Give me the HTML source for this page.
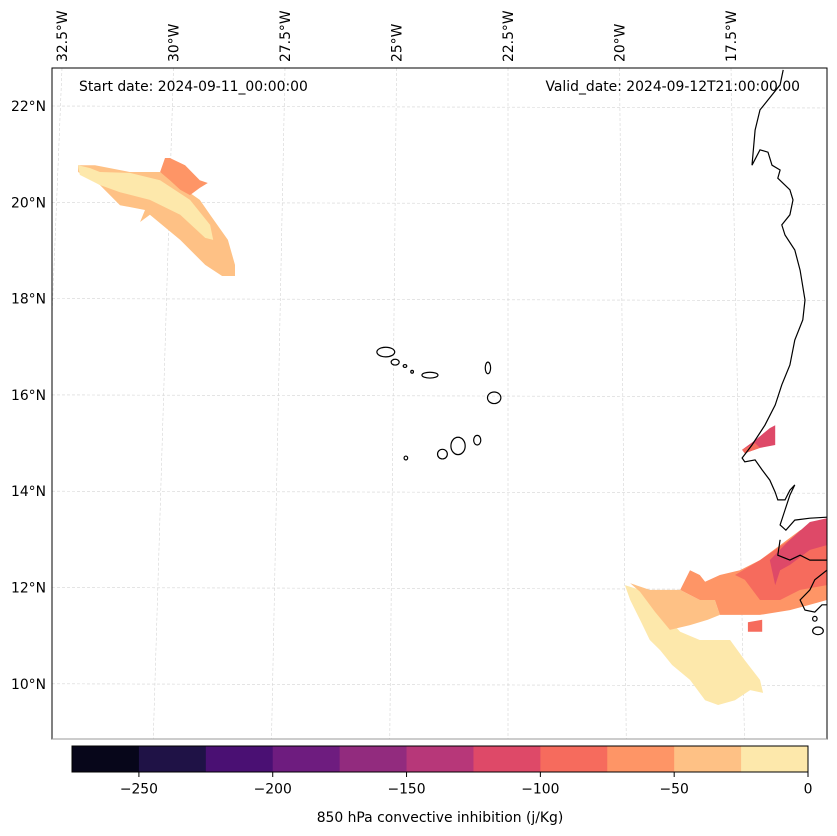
<!DOCTYPE html>
<html><head><meta charset="utf-8"><style>
body{margin:0;background:#fff;}
svg{display:block;font-family:"DejaVu Sans","Liberation Sans",sans-serif;}
</style></head><body>
<svg id="chart" width="837" height="836" viewBox="0 0 837 836" xmlns="http://www.w3.org/2000/svg">
<defs><clipPath id="mapclip"><rect x="52" y="68" width="775" height="671"/></clipPath></defs>
<g id="grid" clip-path="url(#mapclip)"></g>
<g id="fills" clip-path="url(#mapclip)"></g>
<g id="coast" clip-path="url(#mapclip)"></g>
<rect x="52" y="68" width="775" height="671" fill="none" stroke="#000" stroke-width="1"/>
<line x1="52" y1="739" x2="827" y2="739" stroke="#999" stroke-width="1"/>
<text x="79" y="91" font-size="13.9">Start date: 2024-09-11_00:00:00</text>
<text x="800" y="91" font-size="13.9" text-anchor="end">Valid_date: 2024-09-12T21:00:00.00</text>
<g id="lonlabels"></g>
<g id="latlabels"></g>
<g id="cbar"></g>
<text x="440" y="822" font-size="13.9" text-anchor="middle">850 hPa convective inhibition (j/Kg)</text>
</svg>
<script>
const levels = [-275,-250,-225,-200,-175,-150,-125,-100,-75,-50,-25,0];
const levelColors = ["#07061a","#1f1246","#4a1073","#6e1c7f","#922b7e","#b73779","#de4968","#f66b5d","#fe9566","#fec185","#fde8ab"];
const cbarTicks = [-250,-200,-150,-100,-50,0];
const lonTicks = [-32.5,-30,-27.5,-25,-22.5,-20,-17.5,-15];
const latTicks = [10,12,14,16,18,20,22];
const regionValues = [-50,-75,-25, -25,-50,-75,-100,-125,-100,-125,-100];
const regionPolys = [
 [[-32.14,20.77],[-31.76,20.77],[-30.98,20.63],[-30.30,20.63],[-29.97,20.42],[-29.41,20.05],[-29.18,19.74],[-28.78,19.22],[-28.62,18.70],[-28.62,18.47],[-28.91,18.47],[-29.29,18.70],[-29.85,19.22],[-30.53,19.74],[-30.75,19.59],[-30.64,19.84],[-31.20,19.94],[-31.65,20.36],[-32.14,20.63]],
 [[-30.08,20.92],[-29.74,20.77],[-29.41,20.46],[-29.23,20.40],[-29.41,20.30],[-29.63,20.15],[-29.85,20.26],[-30.08,20.46],[-30.30,20.63],[-30.19,20.92]],
 [[-32.14,20.77],[-31.87,20.71],[-31.65,20.63],[-30.98,20.61],[-30.30,20.46],[-29.63,20.05],[-29.18,19.53],[-29.11,19.22],[-29.29,19.26],[-29.85,19.74],[-30.53,20.05],[-31.20,20.21],[-31.65,20.36],[-32.10,20.57]],
 [[-19.88,12.05],[-19.54,11.95],[-19.09,11.53],[-18.64,11.08],[-18.20,10.91],[-17.52,10.91],[-17.19,10.49],[-16.85,10.08],[-16.78,9.81],[-17.07,9.87],[-17.41,9.66],[-17.79,9.56],[-18.08,9.66],[-18.42,10.08],[-18.82,10.39],[-19.09,10.70],[-19.32,10.91],[-19.54,11.33],[-19.76,11.74]],
 [[-19.76,12.09],[-19.32,11.95],[-18.64,11.95],[-18.20,11.74],[-17.86,11.74],[-17.75,11.43],[-18.02,11.33],[-18.42,11.22],[-18.87,11.12],[-19.20,11.49],[-19.54,11.91]],
 [[-18.64,11.95],[-18.42,12.36],[-18.20,12.26],[-18.08,12.12],[-17.75,12.26],[-17.30,12.36],[-16.85,12.57],[-16.40,12.88],[-15.95,13.19],[-15.35,13.40],[-15.35,11.74],[-15.73,11.64],[-16.18,11.53],[-16.85,11.43],[-17.30,11.43],[-17.75,11.43],[-17.86,11.74],[-18.20,11.74]],
 [[-17.41,12.26],[-16.85,12.57],[-16.18,12.99],[-15.73,13.30],[-15.35,13.40],[-15.35,12.05],[-15.95,11.95],[-16.40,11.74],[-16.85,11.74],[-17.19,12.16]],
 [[-16.63,12.57],[-16.18,12.99],[-15.73,13.36],[-15.35,13.44],[-15.35,12.88],[-15.73,12.78],[-16.18,12.47],[-16.40,12.36],[-16.51,12.05]],
 [[-17.12,11.28],[-16.80,11.33],[-16.80,11.08],[-17.12,11.08]],
 [[-17.25,14.86],[-16.96,15.06],[-16.63,15.31],[-16.51,15.37],[-16.51,14.96],[-16.85,14.90],[-17.19,14.79]],
 [[-17.25,14.86],[-16.96,15.00],[-16.85,14.90],[-17.19,14.79]]
];
const coastLines = [
 [[-16.33,22.75],[-16.40,22.44],[-16.85,21.92],[-16.96,21.50],[-17.03,20.77],[-16.85,21.09],[-16.67,21.04],[-16.58,20.77],[-16.40,20.67],[-16.45,20.50],[-16.18,20.26],[-16.11,20.05],[-16.18,19.74],[-16.36,19.53],[-16.29,19.32],[-16.07,19.01],[-15.95,18.59],[-15.84,17.97],[-15.89,17.56],[-16.07,17.14],[-16.18,16.62],[-16.36,16.21],[-16.51,15.79],[-16.74,15.37],[-17.03,14.96],[-17.25,14.69],[-17.19,14.61],[-16.96,14.65],[-16.80,14.44],[-16.63,14.23],[-16.51,13.98],[-16.45,13.82],[-16.29,13.82],[-16.18,14.02],[-16.07,14.13],[-16.18,13.92],[-16.29,13.61],[-16.40,13.30],[-16.27,13.19],[-16.07,13.40],[-15.73,13.44],[-15.35,13.46]],
 [[-16.40,12.99],[-16.45,12.67],[-16.18,12.57],[-15.95,12.67],[-15.73,12.57],[-15.35,12.57]],
 [[-15.35,12.36],[-15.62,12.16],[-15.73,11.95],[-15.95,11.74],[-15.84,11.53],[-15.62,11.49],[-15.46,11.64],[-15.35,11.64]]
];
const islands = [[-25.24,16.89,0.2,0.1],[-25.03,16.68,0.09,0.06],[-24.81,16.60,0.04,0.03],[-24.65,16.48,0.03,0.03],[-24.25,16.41,0.18,0.06],[-22.95,16.56,0.06,0.12],[-22.81,15.94,0.15,0.12],[-23.62,14.94,0.16,0.18],[-23.19,15.06,0.08,0.1],[-23.97,14.77,0.11,0.1],[-24.79,14.69,0.04,0.04],[-15.55,11.10,0.12,0.08],[-15.62,11.35,0.05,0.05]];

const NS='http://www.w3.org/2000/svg';
function xOf(lon){return 62+(lon+32.5)*44.6;}
function yOf(lat){return 106+(22-lat)*48.15;}
function pt(p){return xOf(p[0]).toFixed(1)+','+yOf(p[1]).toFixed(1);}
function mk(tag,attrs,parent){const e=document.createElementNS(NS,tag);for(const k in attrs)e.setAttribute(k,attrs[k]);parent.appendChild(e);return e;}
function colorFor(v){const i=levels.indexOf(v);return levelColors[Math.max(0,i)];}
const grid=document.getElementById('grid');
lonTicks.forEach(l=>{
  const x0=xOf(l), tilt=(l+22.5)*2.7;
  const ln=mk('line',{x1:x0,y1:68,x2:x0+tilt,y2:739,stroke:'#d4d4d4','stroke-width':0.6,'stroke-dasharray':'3,2'},grid);
  
  
  if(l>-16)return;
  const t=mk('text',{transform:`translate(${x0+5},62) rotate(-90)`,'font-size':13.9},document.getElementById('lonlabels'));
  
  
  t.textContent=(-l)+'°W';
});
latTicks.forEach(l=>{
  const y=yOf(l);
  const ln=mk('line',{x1:52,y1:y,x2:827,y2:y+2,stroke:'#d4d4d4','stroke-width':0.6,'stroke-dasharray':'3,2'},grid);
  
  
  const t=mk('text',{x:46,y:y+5,'font-size':13.9,'text-anchor':'end'},document.getElementById('latlabels'));
  
  
  t.textContent=l+'°N';
});
const fills=document.getElementById('fills');
regionPolys.forEach((poly,i)=>{
  const p=mk('polygon',{points:poly.map(pt).join(' '),fill:colorFor(regionValues[i])},fills);
  
  
});
const coast=document.getElementById('coast');
coastLines.forEach(line=>{
  const p=mk('polyline',{points:line.map(pt).join(' '),fill:'none',stroke:'#000','stroke-width':1.2},coast);
  
  
});
islands.forEach(d=>{
  const e=mk('ellipse',{cx:xOf(d[0]),cy:yOf(d[1]),rx:d[2]*44.6,ry:d[3]*48.15,fill:'none',stroke:'#000','stroke-width':1.2},coast);
  
  
});
const cb=document.getElementById('cbar');
const cx=v=>72+(v-levels[0])*(808-72)/(levels[levels.length-1]-levels[0]);
levelColors.forEach((c,i)=>{
  const r=mk('rect',{x:cx(levels[i]),y:746,width:cx(levels[i+1])-cx(levels[i])+0.5,height:26,fill:c},cb);
  
  
});
mk('rect',{x:72,y:746,width:736,height:26,fill:'none',stroke:'#000','stroke-width':1},cb);
cbarTicks.forEach(v=>{
  const x=cx(v);
  const tk=mk('line',{x1:x,y1:772,x2:x,y2:777,stroke:'#000','stroke-width':1},cb);
  
  
  const t=mk('text',{x:x,y:793.5,'font-size':13.9,'text-anchor':'middle'},cb);
  
  
  t.textContent=v<0?'−'+(-v):String(v);
});
</script>
</body></html>
